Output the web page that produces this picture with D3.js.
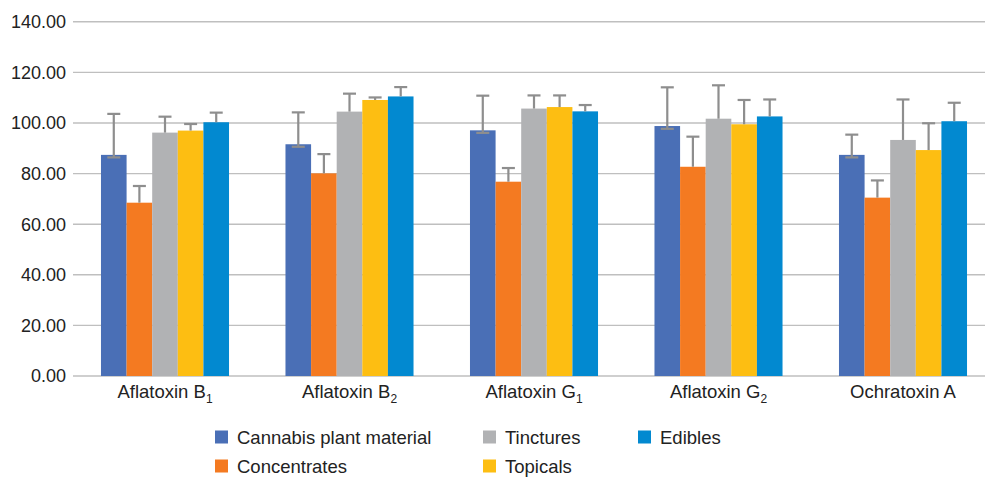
<!DOCTYPE html>
<html>
<head>
<meta charset="utf-8">
<script src="https://cdn.jsdelivr.net/npm/d3@7"></script>
<style>
    body { margin: 0; background: #ffffff; }
    #chart_area { width: 985px; height: 478px; overflow: hidden; }
    text { font-family: "Liberation Sans", Arial, sans-serif; fill: #222222; }
</style>
</head>
<body>
<div id="chart_area"></div>
<script>
// category labels are split into the main text and the subscript
const categories = ["Aflatoxin B1", "Aflatoxin B2", "Aflatoxin G1", "Aflatoxin G2", "Ochratoxin A"];
const category_main = ["Aflatoxin B", "Aflatoxin B", "Aflatoxin G", "Aflatoxin G", "Ochratoxin A"];
const category_sub = ["1", "2", "1", "2", ""];

const series_names = ["Cannabis plant material", "Concentrates", "Tinctures", "Topicals", "Edibles"];

const cannabis = [87.4, 91.6, 97.1, 98.8, 87.4];
const concentrates = [68.5, 80.1, 76.8, 82.7, 70.5];
const tinctures = [96.2, 104.5, 105.7, 101.7, 93.3];
const topicals = [97.0, 109.1, 106.3, 99.5, 89.3];
const edibles = [100.3, 110.5, 104.6, 102.6, 100.7];

// error bar (+) lengths read from the caps
const cannabis_err = [16.2, 12.6, 13.7, 15.3, 8.0];
const concentrates_err = [6.6, 7.6, 5.4, 11.9, 6.8];
const tinctures_err = [6.3, 7.1, 5.2, 13.2, 16.0];
const topicals_err = [2.6, 1.0, 4.6, 9.6, 10.6];
const edibles_err = [3.8, 3.7, 2.5, 6.7, 7.3];
// only the first series shows a (-) cap, just under the bar top
const cannabis_err_minus = [1.0, 1.0, 1.0, 1.1, 1.0];

const y_ticks = [0, 20, 40, 60, 80, 100, 120, 140];

const colors = ["#4a6fb6", "#f47a21", "#b1b2b4", "#fdbe12", "#0289d0"];

class BarChart {
    constructor(element) {
        let self = this;
        this.width = 985;
        this.height = 478;

        this.values = [cannabis, concentrates, tinctures, topicals, edibles];
        this.errors = [cannabis_err, concentrates_err, tinctures_err, topicals_err, edibles_err];

        this.x = d3.scaleBand()
            .domain(categories)
            .range([72.75, 995.25])
            .paddingInner(0.306)
            .paddingOuter(0.153);

        this.x_inner = d3.scaleBand()
            .domain(series_names)
            .range([0, self.x.bandwidth()]);

        this.y = d3.scaleLinear()
            .domain([0, 140])
            .range([376, 21.8]);

        this.svg = d3.select(element)
            .append("svg")
            .attr("width", self.width)
            .attr("height", self.height);

        this.draw_grid();
        this.draw_bars();
        this.draw_error_bars();
        this.draw_x_labels();
        this.draw_legend();
    }

    draw_grid() {
        let self = this;
        let grid = this.svg.append("g");

        grid.selectAll("line")
            .data(y_ticks)
            .enter().append("line")
            .attr("x1", 73)
            .attr("x2", self.width)
            .attr("y1", d => self.y(d))
            .attr("y2", d => self.y(d))
            .attr("stroke", "#bfbfbf")
            .attr("stroke-width", 1.4);

        grid.selectAll("text")
            .data(y_ticks)
            .enter().append("text")
            .attr("x", 66)
            .attr("y", d => self.y(d))
            .attr("dy", "0.36em")
            .attr("text-anchor", "end")
            .style("font-size", "18px")
            .text(d3.format(".2f"));
    }

    draw_bars() {
        let self = this;
        let groups = this.svg.append("g")
            .selectAll("g")
            .data(series_names)
            .enter().append("g")
            .attr("fill", (d, i) => colors[i]);

        groups.selectAll("rect")
            .data((name, i) => categories.map((c, j) => ({name: name, category: c, value: self.values[i][j]})))
            .enter().append("rect")
            .attr("x", d => self.x(d.category) + self.x_inner(d.name))
            .attr("y", d => self.y(d.value))
            .attr("width", self.x_inner.bandwidth())
            .attr("height", d => self.y(0) - self.y(d.value));
    }

    draw_error_bars() {
        let self = this;
        const cap = 6.5;
        let data = [];
        series_names.forEach(function (name, i) {
            categories.forEach(function (c, j) {
                data.push({
                    cx: self.x(c) + self.x_inner(name) + self.x_inner.bandwidth() / 2,
                    value: self.values[i][j],
                    top: self.values[i][j] + self.errors[i][j],
                    bottom: i === 0 ? self.values[i][j] - cannabis_err_minus[j] : null
                });
            });
        });

        let bars = this.svg.append("g")
            .attr("stroke", "#8e8e8e")
            .attr("stroke-width", 2.2);

        bars.selectAll(".whisker")
            .data(data)
            .enter().append("line")
            .attr("class", "whisker")
            .attr("x1", d => d.cx)
            .attr("x2", d => d.cx)
            .attr("y1", d => self.y(d.bottom === null ? d.value : d.bottom))
            .attr("y2", d => self.y(d.top));

        bars.selectAll(".cap_top")
            .data(data)
            .enter().append("line")
            .attr("class", "cap_top")
            .attr("x1", d => d.cx - cap)
            .attr("x2", d => d.cx + cap)
            .attr("y1", d => self.y(d.top))
            .attr("y2", d => self.y(d.top));

        bars.selectAll(".cap_bottom")
            .data(data.filter(d => d.bottom !== null))
            .enter().append("line")
            .attr("class", "cap_bottom")
            .attr("x1", d => d.cx - cap)
            .attr("x2", d => d.cx + cap)
            .attr("y1", d => self.y(d.bottom))
            .attr("y2", d => self.y(d.bottom));
    }

    draw_x_labels() {
        let self = this;
        let labels = this.svg.append("g")
            .selectAll("text")
            .data(categories)
            .enter().append("text")
            .attr("x", d => self.x(d) + self.x.bandwidth() / 2)
            .attr("y", 398)
            .attr("text-anchor", "middle")
            .style("font-size", "18.5px");

        labels.append("tspan")
            .text((d, i) => category_main[i]);

        labels.append("tspan")
            .attr("dy", 4.5)
            .style("font-size", "12px")
            .text((d, i) => category_sub[i]);
    }

    draw_legend() {
        // legend entries are laid out column by column, two rows each
        const columns = [215, 483, 638];
        const rows = [430.5, 459.5];
        let legend = this.svg.append("g")
            .selectAll("g")
            .data(series_names)
            .enter().append("g")
            .attr("transform", (d, i) => "translate(" + columns[Math.floor(i / 2)] + "," + rows[i % 2] + ")");

        legend.append("rect")
            .attr("width", 13)
            .attr("height", 13)
            .attr("fill", (d, i) => colors[i]);

        legend.append("text")
            .attr("x", 22)
            .attr("y", 6.5)
            .attr("dy", "0.36em")
            .style("font-size", "18.5px")
            .text(d => d);
    }
}

new BarChart("#chart_area");
</script>
</body>
</html>
